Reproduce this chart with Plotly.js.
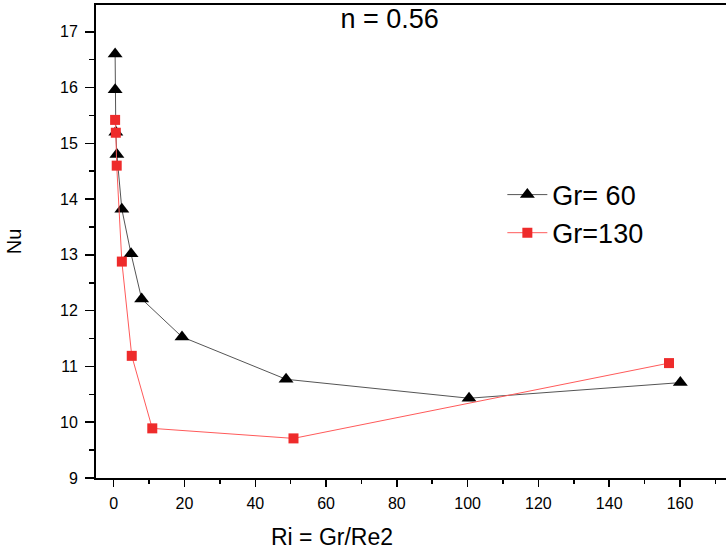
<!DOCTYPE html>
<html><head><meta charset="utf-8">
<script src="https://cdn.plot.ly/plotly-3.0.1.min.js"></script>
<style>html,body{margin:0;padding:0;background:#fff;}#chart{width:726px;height:552px;}</style>
</head><body><div id="chart"></div>
<script>
const gr60_ri = [0.4, 0.4, 0.6, 0.9, 2.3, 4.9, 7.9, 19.3, 48.7, 100.4, 160.1];
const gr60_nu = [16.6, 15.96, 15.2, 14.8, 13.82, 13.02, 12.21, 11.53, 10.77, 10.43, 10.71];
const gr130_ri = [0.4, 0.6, 0.85, 2.3, 5.1, 10.9, 50.8, 156.9];
const gr130_nu = [15.42, 15.19, 14.6, 12.88, 11.19, 9.89, 9.71, 11.06];
const seriesNames = ["Gr= 60", "Gr=130"];
const titleText = "n = 0.56";
const xTitle = "Ri = Gr/Re2";
const yTitle = "Nu";

const font = "Liberation Sans, Arial, sans-serif";
const traces = [
  {x: gr60_ri, y: gr60_nu, name: seriesNames[0], mode: "lines+markers", type: "scatter",
   line: {color: "#555555", width: 1},
   marker: {symbol: "triangle-up", size: 13, color: "#000000"}},
  {x: gr130_ri, y: gr130_nu, name: seriesNames[1], mode: "lines+markers", type: "scatter",
   line: {color: "#ff5a5a", width: 1},
   marker: {symbol: "square", size: 10, color: "#ee2b2b"}}
];
const layout = {
  width: 726, height: 552,
  margin: {l: 96, r: 0, t: 5, b: 74},
  paper_bgcolor: "#fff", plot_bgcolor: "#fff",
  font: {family: font, color: "#000"},
  title: {text: titleText, font: {size: 27, family: font, color: "#000"},
          xref: "paper", x: 0.466, xanchor: "center", yref: "container", y: 0.966, yanchor: "middle"},
  showlegend: true,
  legend: {x: 0.645, y: 0.65, xanchor: "left", yanchor: "top", bgcolor: "rgba(0,0,0,0)",
           font: {size: 27, family: font, color: "#000"}, tracegroupgap: 0, itemwidth: 40},
  xaxis: {range: [-5, 173], tickmode: "linear", tick0: 0, dtick: 20,
          showgrid: false, zeroline: false, showline: true, linecolor: "#000", linewidth: 2, mirror: true,
          ticks: "outside", ticklen: 7, tickwidth: 1.5, tickcolor: "#000", ticklabelstandoff: 3,
          minor: {dtick: 10, ticks: "outside", ticklen: 4, tickwidth: 1.5, tickcolor: "#000", showgrid: false},
          tickfont: {size: 16, family: font, color: "#000"}},
  yaxis: {range: [9, 17.48], tickmode: "linear", tick0: 9, dtick: 1,
          showgrid: false, zeroline: false, showline: true, linecolor: "#000", linewidth: 2,
          ticks: "outside", ticklen: 9, tickwidth: 1.5, tickcolor: "#000", ticklabelstandoff: 4,
          minor: {dtick: 0.5, ticks: "outside", ticklen: 5, tickwidth: 1.5, tickcolor: "#000", showgrid: false},
          tickfont: {size: 16, family: font, color: "#000"},
          title: {text: yTitle, font: {size: 20, family: font, color: "#000"}, standoff: 33}},
  annotations: [
    {text: xTitle, xref: "paper", yref: "paper", x: (332 - 96) / 630, y: 0, yshift: -59,
     xanchor: "center", yanchor: "middle", showarrow: false, font: {size: 23, family: font, color: "#000"}}
  ]
};
Plotly.newPlot("chart", traces, layout, {displayModeBar: false, staticPlot: true});
</script></body></html>
